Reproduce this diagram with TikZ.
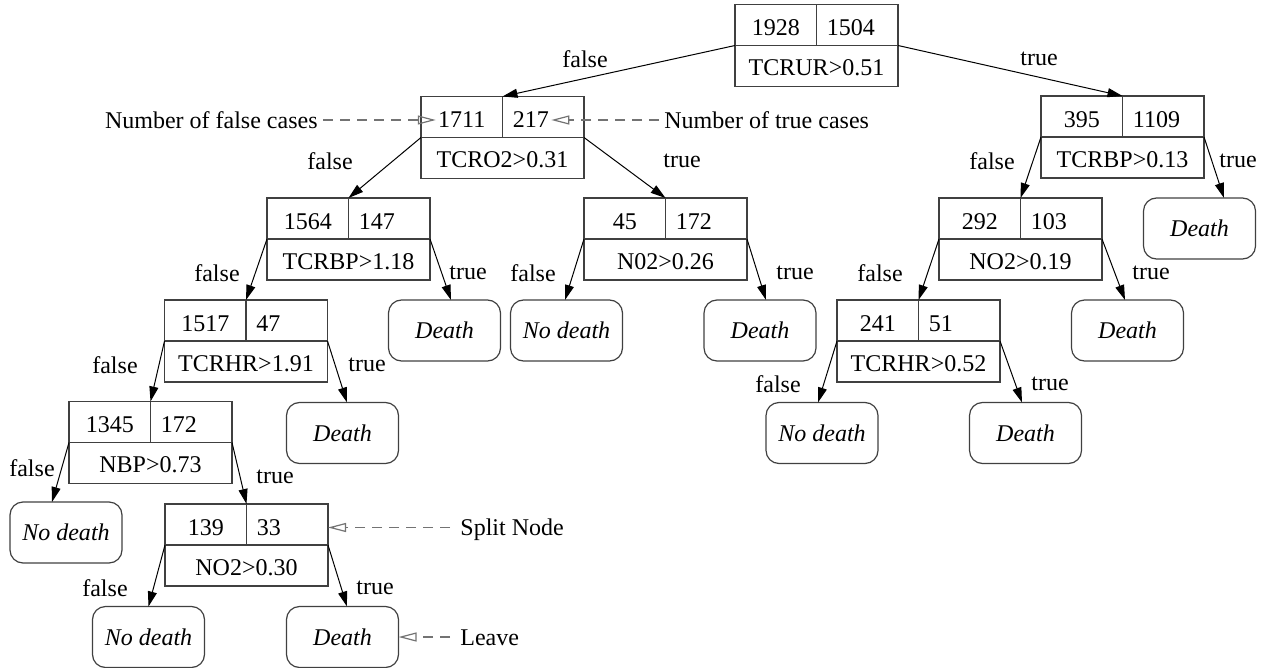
\documentclass[tikz,border=0pt]{standalone}
\usepackage{fontspec}
\setmainfont{Liberation Serif}
\usetikzlibrary{arrows.meta,calc}

% split node: name, centre, false count, true count, test
\newcommand{\splitnode}[5]{%
  \node[splitbox] (#1) at (#2) {};
  \draw[boxline] (#1.west) -- (#1.east) (#1.north) -- (#1.center);
  \node[cell] (#1-f) at ($(#1.north west)!0.5!(#1.center)+(0,3)$) {#3};
  \node[cell,anchor=west] (#1-t) at ($(#1.north)!0.5!(#1.center)+(8,3)$) {#4};
  \node[cell] (#1-q) at ($(#1.south)!0.5!(#1.center)+(0,2)$) {#5};
}

\begin{document}
\begin{tikzpicture}[x=0.5pt,y=-0.5pt,
  every node/.style={font=\fontsize{12}{14}\selectfont},
  splitbox/.style={draw=black!75,line width=0.6pt,minimum width=81.5pt,minimum height=41pt,inner sep=0pt,outer sep=0pt},
  boxline/.style={draw=black!75,line width=0.6pt},
  cell/.style={inner sep=1pt},
  leaf/.style={draw=black!75,line width=0.6pt,rounded corners=6.5pt,minimum width=56pt,minimum height=30.5pt,inner sep=0pt,outer sep=0pt,font=\fontsize{12}{14}\selectfont\itshape},
  lbl/.style={inner sep=0pt},
  branch/.style={-{Triangle[length=7.5pt,width=4.5pt]},line width=0.5pt},
  note/.style={-{Triangle[open,length=9pt,width=4.5pt]},dash pattern=on 5pt off 3.5pt,draw=black!55,line width=0.6pt}]

  \useasboundingbox (0,0) rectangle (1278,668);

  \splitnode{n0}{816.5,45.5}{1928}{1504}{TCRUR>0.51}
  \splitnode{n1}{502.5,137.5}{1711}{217}{TCRO2>0.31}
  \splitnode{n2}{1122.5,137}{395}{1109}{TCRBP>0.13}
  \splitnode{n3}{348.5,239}{1564}{147}{TCRBP>1.18}
  \splitnode{n4}{665.5,239}{45}{172}{N02>0.26}
  \splitnode{n5}{1020.5,239}{292}{103}{NO2>0.19}
  \splitnode{n6}{246,341}{1517}{47}{TCRHR>1.91}
  \splitnode{n7}{918.5,341}{241}{51}{TCRHR>0.52}
  \splitnode{n8}{150.5,442.5}{1345}{172}{NBP>0.73}
  \splitnode{n9}{246.5,545}{139}{33}{NO2>0.30}

  \node[leaf] (l1)  at (1199.5,228.5) {Death};
  \node[leaf] (l2)  at (444.5,330.5)  {Death};
  \node[leaf] (l3)  at (566.5,330.5)  {No death};
  \node[leaf] (l4)  at (760,330.5)    {Death};
  \node[leaf] (l5)  at (1127.5,330.5) {Death};
  \node[leaf] (l6)  at (342.5,433)    {Death};
  \node[leaf] (l7)  at (822,433)      {No death};
  \node[leaf] (l8)  at (1025.5,433)   {Death};
  \node[leaf] (l9)  at (66,532.5)     {No death};
  \node[leaf] (l10) at (148.5,637)    {No death};
  \node[leaf] (l11) at (342.5,637)    {Death};

  \path[branch]
    (n0.west) edge (n1.north)
    (n0.east) edge (n2.north)
    (n1.west) edge (n3.north)
    (n1.east) edge (n4.north)
    (n2.west) edge (n5.north)
    (n2.east) edge ([xshift=12.25pt]l1.north)
    (n3.west) edge (n6.north)
    (n3.east) edge ([xshift=3.25pt]l2.north)
    (n4.west) edge ([xshift=-0.75pt]l3.north)
    (n4.east) edge ([xshift=3pt]l4.north)
    (n5.west) edge (n7.north)
    (n5.east) edge ([xshift=-1.25pt]l5.north)
    (n6.west) edge (n8.north)
    (n6.east) edge ([xshift=2.25pt]l6.north)
    (n7.west) edge ([xshift=-2pt]l7.north)
    (n7.east) edge ([xshift=-1.75pt]l8.north)
    (n8.west) edge ([xshift=-7pt]l9.north)
    (n8.east) edge (n9.north)
    (n9.west) edge (l10.north)
    (n9.east) edge ([xshift=2.25pt]l11.north)
  ;

  % branch labels
  \foreach \x/\y/\t [count=\i] in {585/59/false, 1039/59/true,
      330/161/false, 682/161/true, 992/161/false, 1238/161/true,
      217/273/false, 468/273/true, 533/273/false, 795/273/true,
      880/273/false, 1151/273/true, 115/365/false, 367/365/true,
      778/384/false, 1050/384/true, 32/468/false, 275/477/true,
      105/588/false, 375/588/true}
    \node[lbl] (lbl\i) at (\x,\y) {\t};

  % legend
  \node[lbl,anchor=east,text depth=0pt] (nfalse) at (318,120) {Number of false cases};
  \node[lbl,anchor=west,text depth=0pt] (ntrue)  at (664,120) {Number of true cases};
  \node[lbl,anchor=west,text depth=0pt] (nsplit) at (460,527) {Split Node};
  \node[lbl,anchor=west,text depth=0pt] (nleave) at (460,638) {Leave};

  \draw[note] ($(nfalse.east |- n1-f)+(5,0)$) -- (n1-f.west);
  \draw[note] ($(ntrue.west |- n1-t)+(-5,0)$) -- (n1-t.east);
  \draw[note] ($(nsplit.west |- n9-f)+(-10,0)$) -- (n9.east |- n9-f);
  \draw[note] ($(nleave.west |- l11)+(-10,0)$) -- (l11.east);
\end{tikzpicture}
\end{document}
